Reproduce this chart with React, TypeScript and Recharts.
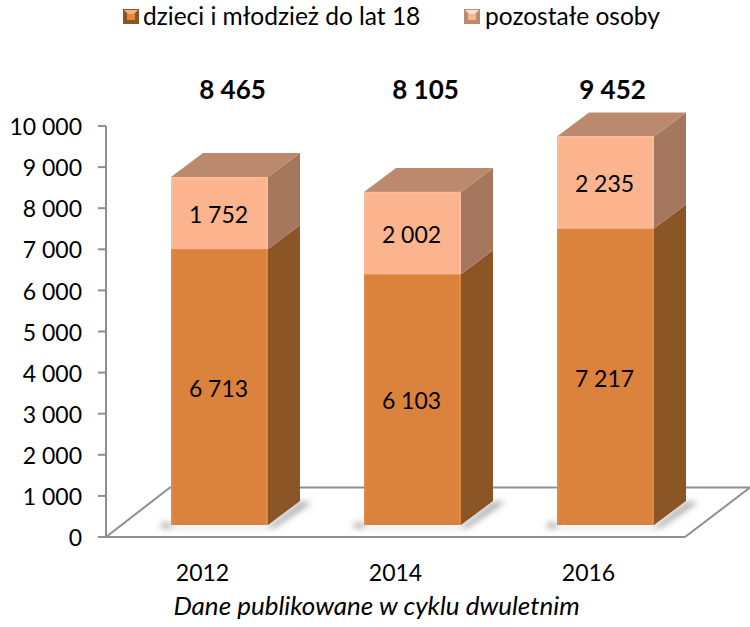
import { BarChart, Bar, XAxis, YAxis, Legend, LabelList } from "recharts";

const years = ["2012", "2014", "2016"];
const children = [6713, 6103, 7217];
const others = [1752, 2002, 2235];
const totals = [8465, 8105, 9452];
const yTicks = [0, 1000, 2000, 3000, 4000, 5000, 6000, 7000, 8000, 9000, 10000];
const seriesNames = ["dzieci i młodzież do lat 18", "pozostałe osoby"];

const chartData = years.map((year, i) => ({
  year,
  children: children[i],
  others: others[i],
  total: totals[i],
}));

const FONT = "Lato, Carlito, sans-serif";
const AXIS = "#8f8f8f";
// the boxes stand on the floor, moved in from the axis plane
const SHIFT_X = 17;
const SHIFT_Y = -12;
const DEPTH_X = 32;
const DEPTH_Y = 24;

const fmt = (v: number) => String(v).replace(/\B(?=(\d{3})+$)/g, " ");

function Box(props: any) {
  const { x, y, width, height, front, edge, side, top, floor } = props;
  const l = x + SHIFT_X;
  const t = y + SHIFT_Y;
  const r = l + width;
  const b = t + height;
  return (
    <g>
      {floor && (
        <polygon
          points={`${l - 10},${b - 2} ${l},${b - 2} ${l},${b + 2} ${r},${b + 2} ${r + DEPTH_X + 1},${b - DEPTH_Y + 1} ${r + DEPTH_X + 12},${b - DEPTH_Y + 1} ${r + 6},${b + 3} ${l - 10},${b + 3}`}
          fill="#a3a3a3"
          filter="url(#floorShadow)"
        />
      )}
      <polygon points={`${r},${t} ${r + DEPTH_X},${t - DEPTH_Y} ${r + DEPTH_X},${b - DEPTH_Y} ${r},${b}`} fill={side} />
      {top && (
        <polygon points={`${l},${t} ${l + DEPTH_X},${t - DEPTH_Y} ${r + DEPTH_X},${t - DEPTH_Y} ${r},${t}`} fill={top} />
      )}
      <rect x={l} y={t} width={width} height={height} fill={front} />
      <rect x={l + 0.5} y={t} width={1.5} height={height} fill={edge} />
      <rect x={r - 2} y={t} width={1.5} height={height} fill={edge} />
      {top && <rect x={l} y={t} width={width} height={1.5} fill={edge} />}
    </g>
  );
}

function inBox(props: any) {
  const { x, y, width, height, value } = props;
  return (
    <text
      x={x + SHIFT_X + width / 2 - 1}
      y={y + SHIFT_Y + height / 2 + 4}
      textAnchor="middle"
      dominantBaseline="middle"
      fontFamily={FONT}
      fontSize={23}
      fill="#000"
    >
      {fmt(value)}
    </text>
  );
}

// totals sit in one row above the boxes, the last one a bit further left
const totalNudge = [13, 13, 7];

function totalLabel(props: any) {
  const { x, width, value, index } = props;
  return (
    <text
      x={x + SHIFT_X + width / 2 + totalNudge[index]}
      y={92}
      textAnchor="middle"
      dominantBaseline="middle"
      fontFamily={FONT}
      fontSize={26}
      fontWeight={700}
      fill="#000"
    >
      {fmt(value)}
    </text>
  );
}

function Marker({ base, dark, light }: { base: string; dark: string; light: string }) {
  return (
    <svg width={16} height={15} style={{ display: "block" }}>
      <rect x={0} y={0} width={16} height={15} fill={dark} />
      <polygon points="1,1 15,1 8,8" fill={light} />
      <rect x={4} y={5} width={8} height={6} fill={base} />
    </svg>
  );
}

function TopLegend() {
  return (
    <div style={{ position: "relative", width: 750, height: 40, fontFamily: FONT, fontSize: 24.5, color: "#000" }}>
      <span style={{ position: "absolute", left: 123, top: 9 }}>
        <Marker base="#e08a40" dark="#8b5526" light="#f2b27a" />
      </span>
      <span style={{ position: "absolute", left: 143, top: 1, whiteSpace: "nowrap" }}>{seriesNames[0]}</span>
      <span style={{ position: "absolute", left: 464, top: 9 }}>
        <Marker base="#fbb48e" dark="#b98a70" light="#fde0cd" />
      </span>
      <span style={{ position: "absolute", left: 485, top: 1, whiteSpace: "nowrap" }}>{seriesNames[1]}</span>
    </div>
  );
}

// floor of the chart, behind the boxes
function Floor() {
  return (
    <g>
      <defs>
        <filter id="floorShadow" x="-30%" y="-60%" width="160%" height="220%">
          <feGaussianBlur stdDeviation="3" />
        </filter>
      </defs>
      <polyline points="106,537 170,487.5 750,487.5 685,537" fill="none" stroke={AXIS} strokeWidth={2} />
    </g>
  );
}

export default function App() {
  return (
    <div style={{ position: "absolute", left: 0, top: 0, width: 750, height: 627, background: "#fff" }}>
      <BarChart
        width={750}
        height={627}
        data={chartData}
        margin={{ top: 86, right: 65, bottom: 0, left: 0 }}
        style={{ fontFamily: FONT }}
      >
        <Floor />
        <Legend verticalAlign="top" height={40} wrapperStyle={{ top: 0, left: 0 }} content={() => <TopLegend />} />
        <YAxis
          width={106}
          domain={[0, 10000]}
          ticks={yTicks}
          interval={0}
          tickFormatter={fmt}
          tick={{ fontSize: 23, fill: "#000", fontFamily: FONT, dy: 1 }}
          tickSize={8}
          tickMargin={16}
          axisLine={{ stroke: AXIS, strokeWidth: 2 }}
          tickLine={{ stroke: AXIS, strokeWidth: 2 }}
        />
        <XAxis
          dataKey="year"
          height={90}
          tick={{ fontSize: 23, fill: "#000", fontFamily: FONT }}
          tickLine={false}
          tickMargin={22}
          axisLine={{ stroke: AXIS, strokeWidth: 2 }}
          label={{
            value: "Dane publikowane w cyklu dwuletnim",
            position: "insideBottom",
            offset: 12,
            dx: -19,
            style: { fontSize: 26, fontStyle: "italic", fill: "#000", fontFamily: FONT },
          }}
        />
        <Bar
          dataKey="children"
          name={seriesNames[0]}
          stackId="a"
          barSize={97}
          isAnimationActive={false}
          shape={(p: any) => <Box {...p} front="#db823d" edge="#e58b41" side="#8b5526" floor />}
        >
          <LabelList dataKey="children" content={inBox} />
        </Bar>
        <Bar
          dataKey="others"
          name={seriesNames[1]}
          stackId="a"
          barSize={97}
          isAnimationActive={false}
          shape={(p: any) => <Box {...p} front="#fbb48e" edge="#fcbd9b" side="#a5785e" top="#bb8a6e" />}
        >
          <LabelList dataKey="others" content={inBox} />
          <LabelList dataKey="total" content={totalLabel} />
        </Bar>
      </BarChart>
    </div>
  );
}
